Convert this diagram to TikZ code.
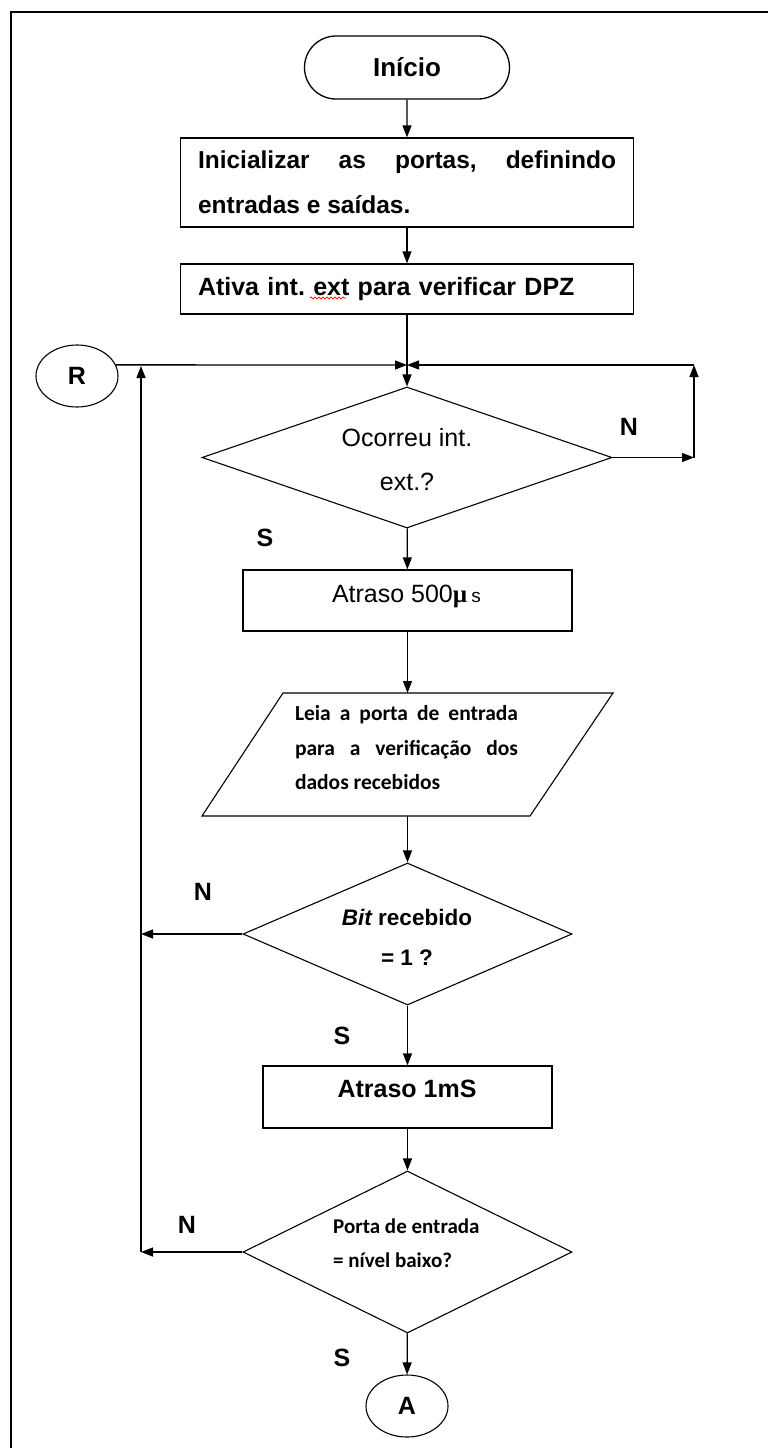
\documentclass[tikz,border=0pt]{standalone}
\usepackage{fontspec}
\setmainfont{Liberation Sans}
\newfontfamily\calfont{Carlito}
\newfontfamily\muserif{Liberation Serif}
\usetikzlibrary{shapes.geometric,shapes.misc,arrows.meta,calc,decorations.pathmorphing}

\begin{document}
\frenchspacing
\lefthyphenmin=62
\righthyphenmin=62
\hyphenpenalty=10000
\exhyphenpenalty=10000
\begin{tikzpicture}[x=1pt,y=-1pt,
  flow/.style={draw, line width=1.3pt, -{Triangle[length=12pt,width=9pt]}},
  procbox/.style={draw, rectangle, inner sep=0pt, line width=1.3pt},
  decision/.style={draw, diamond, inner sep=0pt, line width=1.1pt},
  connector/.style={draw, ellipse, inner sep=0pt, line width=1.1pt,
    minimum width=82pt, minimum height=62pt,
    font=\fontsize{25}{30}\selectfont\bfseries},
  yn/.style={font=\fontsize{25}{30}\selectfont\bfseries},
  boldtxt/.style={font=\fontsize{25}{30}\selectfont\bfseries},
]
\useasboundingbox (0,0) rectangle (768,1448);

% page frame
\draw[line width=2pt] (11,1448) -- (11,12) -- (768,12);

% start terminal
\node[draw, rounded rectangle, line width=1.3pt, minimum width=205pt, minimum height=63pt,
      inner sep=0pt, font=\fontsize{26}{30}\selectfont\bfseries] (start) at (407,67.5) {Início};

% initialisation
\node[procbox, minimum width=453pt, minimum height=89pt, inner xsep=17.5pt,
      text width=418pt, align=justify,
      font=\fontsize{24.5}{45}\selectfont\bfseries] (init) at (407,182.5)
  {Inicializar as portas, definindo entradas e saídas.};

\node[procbox, minimum width=453pt, minimum height=50pt, inner xsep=17.5pt,
      text width=418pt, align=left,
      font=\fontsize{25}{30}\selectfont\bfseries] (extint) at (407,289)
  {Ativa int. ext para verificar DPZ};
\draw[red, line width=0.7pt, decorate, decoration={snake, amplitude=1.1pt, segment length=4pt}]
  ($(extint.west)+(130,9)$) -- ++(36,0);

% return connector and junction
\node[connector] (R) at (77,376) {R};
\coordinate (junc) at (407,365);
\coordinate (rc1) at (694,457.5);
\coordinate (rc2) at (694,365);

% first decision
\node[decision, minimum width=410pt, minimum height=141pt] (d1) at (407,457.5) {};
\node[font=\fontsize{25}{44}\selectfont, align=center] (d1txt) at (407,460) {Ocorreu int.\\ext.?};

% delay 500 us
\node[procbox, minimum width=329pt, minimum height=61pt] (wait1) at (407.5,600.5) {};
\node[inner sep=0pt] (wait1txt) at (406.5,596)
  {\fontsize{25}{30}\selectfont Atraso 500{\muserif\bfseries µ}\,{\fontsize{19}{24}\selectfont s}};

% read input port (parallelogram)
\coordinate (readtop) at (407.5,693);
\coordinate (readbot) at (407.5,816);
\draw[line width=1.1pt] (283,693) -- (613,693) -- (530,816) -- (202,816) -- cycle;
\node[text width=223pt, align=justify, inner sep=0pt,
      font=\calfont\fontsize{21.5}{34.5}\selectfont\bfseries] (readtxt) at (406.5,748)
  {Leia a porta de entrada para a verificação dos dados recebidos};

% second decision
\node[decision, minimum width=329pt, minimum height=142pt] (d2) at (407.5,934) {};
\node[align=center, font=\fontsize{22.5}{40}\selectfont\bfseries] (d2txt) at (407,937)
  {{\itshape Bit} recebido\\= 1 ?};

% delay 1 ms
\node[procbox, minimum width=289pt, minimum height=62pt] (wait2) at (407.5,1097) {};
\node[boldtxt, inner sep=0pt] (wait2txt) at (407,1089) {Atraso 1mS};

% third decision
\node[decision, minimum width=329pt, minimum height=162pt] (d3) at (407.5,1252) {};
\node[anchor=west, align=left, inner sep=0pt,
      font=\calfont\fontsize{21}{34}\selectfont\bfseries] (d3txt) at (333,1243)
  {Porta de entrada\\= nível baixo?};

% exit connector
\node[connector] (A) at (407,1406) {A};

% left return line
\coordinate (lc2) at (141,934);
\coordinate (lc3) at (141,1252);
\coordinate (lctop) at (141,366);

% answer labels
\node[yn] (n1) at (629,427) {N};
\node[yn] (s1) at (265,538) {S};
\node[yn] (n2) at (203,892) {N};
\node[yn] (s2) at (342,1036) {S};
\node[yn] (n3) at (187,1225) {N};
\node[yn] (s3) at (342,1358) {S};

% main flow
\draw[flow] (start) -- (init);
\draw[flow] (init) -- (extint);
\draw[flow] (extint) -- (d1);
\draw[flow] (R.16) -- (junc);
\draw[flow] (d1.east) -- (rc1);
\draw[flow] (rc1) -- (rc2);
\draw[flow] (rc2) -- (junc);
\draw[flow] (d1) -- (wait1);
\draw[flow] (wait1) -- (readtop);
\draw[flow] (readbot) -- (d2);
\draw[flow] (d2.west) -- (lc2);
\draw[flow] (d2) -- (wait2);
\draw[flow] (wait2) -- (d3);
\draw[flow] (d3.west) -- (lc3);
\draw[flow] (lc3) -- (lctop);
\draw[flow] (d3) -- (A);
\end{tikzpicture}
\end{document}
